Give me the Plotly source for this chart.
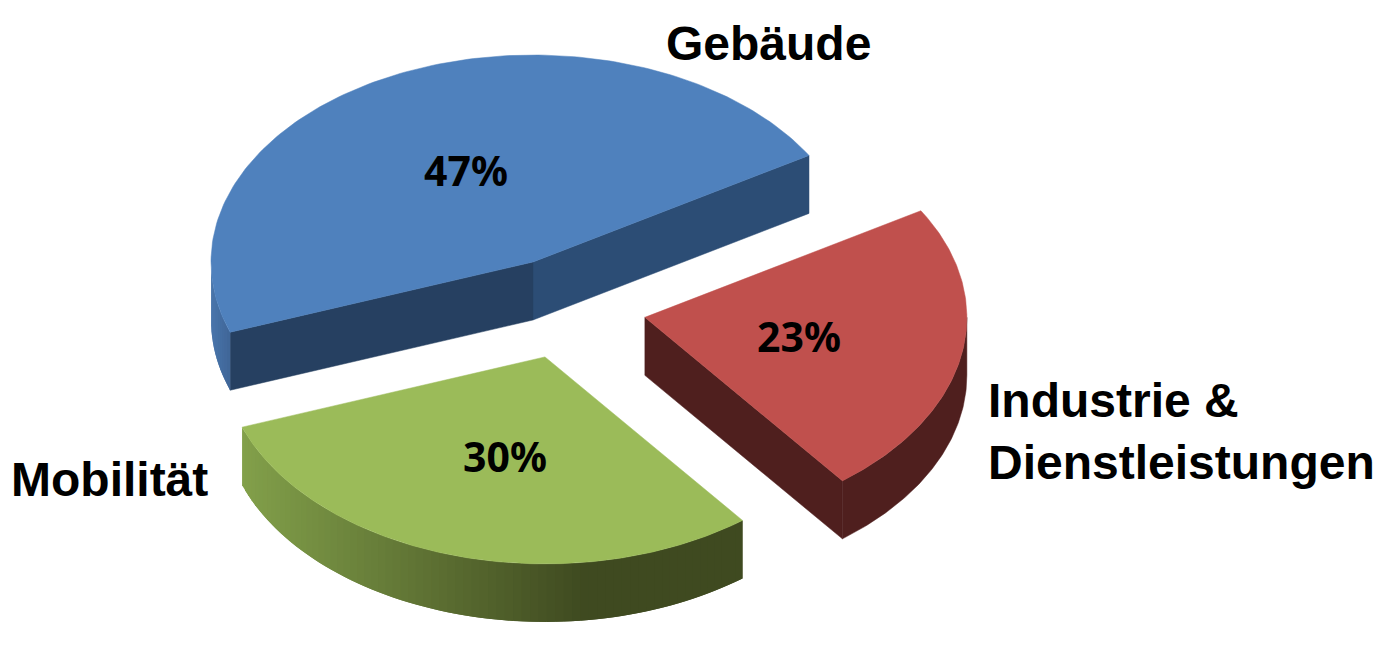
import math
import plotly.graph_objects as go

# Data
categories = ["Gebäude", "Industrie &<br>Dienstleistungen", "Mobilität"]
shares = [46.9, 23.1, 30.0]
share_labels = ["47%", "23%", "30%"]

# Pie geometry (pixels of the 1378x662 canvas)
W, H = 1378, 662
CX, CY = 567, 308
RX, RY = 322, 207
DEPTH = 58
EXPLODE = 0.246
START_DEG = 31.0  # angle of first slice's first edge, counter-clockwise

TOP = ["#4F81BD", "#C0504D", "#9BBB59"]
RADIAL_A = ["#2C4D75", None, None]
RADIAL_B = ["#264061", "#4F1F1E", None]


def hex2rgb(c):
    return tuple(int(c[i:i + 2], 16) for i in (1, 3, 5))


def mix(a, b, t):
    t = max(0.0, min(1.0, t))
    ca, cb = hex2rgb(a), hex2rgb(b)
    return "#%02x%02x%02x" % tuple(round(x + (y - x) * t) for x, y in zip(ca, cb))


def pt(cx, cy, deg, dy=0):
    r = math.radians(deg)
    return cx + RX * math.cos(r), cy - RY * math.sin(r) + dy


fig = go.Figure()


def poly(xs, ys, color, lw=0.5):
    fig.add_trace(go.Scatter(x=xs, y=ys, mode="lines", fill="toself", fillcolor=color,
                             line=dict(color=color, width=lw), hoverinfo="skip", showlegend=False))


def rim_polygon(cx, cy, d0, d1, steps):
    p = [pt(cx, cy, d0 + (d1 - d0) * s / steps) for s in range(steps + 1)]
    xs = [q[0] for q in p] + [q[0] for q in reversed(p)] + [p[0][0]]
    ys = [q[1] for q in p] + [q[1] + DEPTH for q in reversed(p)] + [p[0][1]]
    return xs, ys


def rim_color(i, x):
    if i == 0:
        return mix("#4A76AC", "#3F6596", (x - 211) / 20)
    return mix("#82A04A", "#3F4A20", (x - 243) / 340)


# angular extent of each slice, walking counter-clockwise from the start
order = [0, 2, 1]  # blue, green, red
angles = {}
a = START_DEG
for i in order:
    span = shares[i] / sum(shares) * 360
    angles[i] = (a, a + span)
    a += span

label_pos = {0: (466, 170), 1: (799, 336), 2: (505, 456)}
for i in order:
    a0, a1 = angles[i]
    mid = math.radians((a0 + a1) / 2)
    cx = CX + EXPLODE * RX * math.cos(mid)
    cy = CY - EXPLODE * RY * math.sin(mid)

    # radial cut faces
    if RADIAL_A[i]:
        x1, y1 = pt(cx, cy, a0)
        poly([cx, x1, x1, cx, cx], [cy, y1, y1 + DEPTH, cy + DEPTH, cy], RADIAL_A[i])
    if RADIAL_B[i]:
        x1, y1 = pt(cx, cy, a1 if i == 0 else a0)
        poly([cx, x1, x1, cx, cx], [cy, y1, y1 + DEPTH, cy + DEPTH, cy], RADIAL_B[i])

    # outer rim: solid for red, overlapping shaded strips otherwise
    lo = max(a0, 180)
    hi = min(a1, 360)
    if i == 1:
        xs, ys = rim_polygon(cx, cy, lo, hi, 80)
        poly(xs, ys, "#4F1F1E")
    else:
        n = max(4, int((hi - lo) / 1.5))
        step = (hi - lo) / n
        for k in range(n):
            d0 = lo + step * k
            d1 = min(hi, d0 + step * 2)
            xs, ys = rim_polygon(cx, cy, d0, d1, 6)
            poly(xs, ys, rim_color(i, pt(cx, cy, d0 + step / 2)[0]), lw=0)

    # top face
    n = 160
    arc = [pt(cx, cy, a0 + (a1 - a0) * s / n) for s in range(n + 1)]
    poly([cx] + [q[0] for q in arc] + [cx], [cy] + [q[1] for q in arc] + [cy], TOP[i])

    fig.add_annotation(x=label_pos[i][0], y=label_pos[i][1], text=share_labels[i], showarrow=False,
                       font=dict(family="Noto Sans", size=41, color="#000000", weight=700),
                       xanchor="center", yanchor="middle")

cat_font = dict(family="Liberation Sans", size=48, color="#000000", weight=700)
cat_pos = [(665, 43, "left"), (987, 431, "left"), (10, 479, "left")]
for text, (x, y, anchor) in zip(categories, cat_pos):
    fig.add_annotation(x=x, y=y, text=text, showarrow=False, font=cat_font,
                       xanchor=anchor, yanchor="middle", align="left", borderpad=0)

fig.update_layout(
    width=W, height=H, margin=dict(l=0, r=0, t=0, b=0),
    paper_bgcolor="#FFFFFF", plot_bgcolor="#FFFFFF",
    xaxis=dict(range=[0, W], visible=False, fixedrange=True),
    yaxis=dict(range=[H, 0], visible=False, fixedrange=True),
)
fig.write_html("out.html", post_script="document.body.style.margin='0';",
               config={"displayModeBar": False})
